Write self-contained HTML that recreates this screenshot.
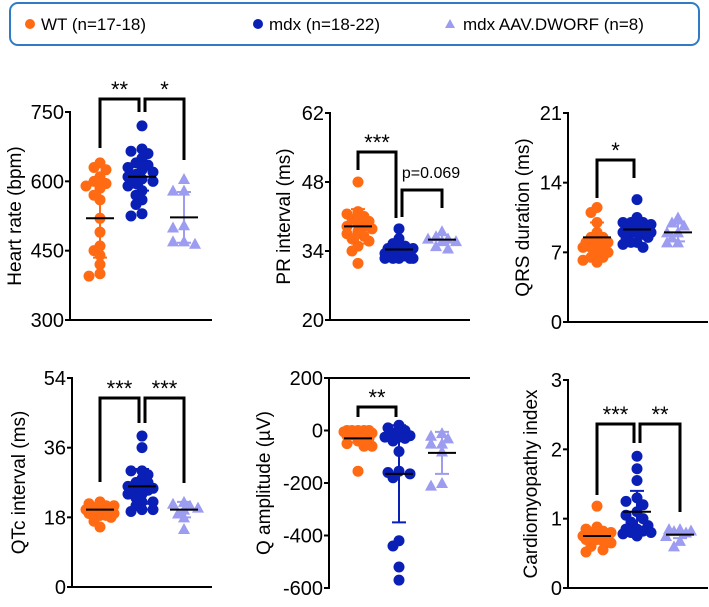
<!DOCTYPE html>
<html><head><meta charset="utf-8"><style>
body{margin:0;background:#fff;width:709px;height:602px;overflow:hidden;font-family:"Liberation Sans",Arial,sans-serif}
svg text{font-family:"Liberation Sans",Arial,sans-serif}
</style></head><body>
<svg id="fig" width="709" height="602">
<g>
<rect x="10" y="3" width="689" height="42" rx="8" fill="#fff" stroke="#2f7cc4" stroke-width="2"/>
<circle cx="30" cy="24" r="5" fill="#ff6a13"/>
<text x="41" y="30" font-size="17">WT (n=17-18)</text>
<circle cx="258" cy="24" r="5" fill="#0a1fb5"/>
<text x="269" y="30" font-size="17">mdx (n=18-22)</text>
<polygon points="450,19 455,28 445,28" fill="#9c9cf0"/>
<text x="463" y="30" font-size="17">mdx AAV.DWORF (n=8)</text>
</g>
</svg>
<script>
// ---- data ----
const groups = ["WT","mdx","mdx AAV.DWORF"];
const hrWT=[640,630,625,610,600,595,590,585,570,560,520,490,460,450,440,420,400,395];
const hrMdx=[720,670,665,660,650,640,635,630,625,620,615,610,605,600,595,590,580,570,560,550,530,525];
const hrAAV=[605,580,580,505,500,470,470,465];
const hrMean=[520,610,522]; const hrSD=[85,30,55];
const prWT=[48,42,41.5,41,40.5,40,39.5,39,39,38.5,38,37.5,37,36.5,36,35,34,31.5];
const prMdx=[38.5,36.5,35.5,35,34.5,34.5,34,34,34,33.5,33.5,33,33,33,33,32.5,32.5,32.5,32.5,32.5];
const prAAV=[38,37,36.5,36.5,36,36,35,34.5];
const prMean=[39,34.3,36.3]; const prSD=[3.5,1.2,1];
const qrsWT=[11.5,11,10,9,8.5,8.5,8,8,8,7.5,7.5,7.5,7,7,6.5,6.5,6,6.2];
const qrsMdx=[12.3,10.5,10,10,10,9.8,9.5,9.5,9.5,9.3,9,9,9,9,8.8,8.5,8.5,8,8,7.8,7.5];
const qrsAAV=[10.5,10,9.7,9,9,8.5,8,8];
const qrsMean=[8.5,9.3,9]; const qrsSD=[1.5,0.9,0.9];
const qtWT=[22,21.5,21,21,20.5,20.5,20,20,20,19.5,19,19,19,18.5,18.5,18,17,15.5];
const qtMdx=[39,36,30,30,29,28,27,27,26,26,25.5,25,25,24,24,23,22,22,21,20,20,19.5];
const qtAAV=[22,21.5,21,20.5,20,19,18,15];
const qtMean=[20,26,20]; const qtSD=[1.5,4.5,2];
const qaWT=[0,0,0,0,0,-5,-10,-10,-15,-20,-20,-30,-40,-50,-60,-60,-155];
const qaMdx=[20,10,0,-10,-20,-25,-25,-30,-40,-80,-155,-160,-165,-180,-420,-440,-520,-570];
const qaAAV=[-10,-20,-30,-50,-50,-80,-200,-210];
const qaMean=[-30,-165,-85]; const qaSD=[15,185,80];
const ciWT=[1.18,0.88,0.85,0.82,0.8,0.8,0.78,0.75,0.75,0.73,0.72,0.7,0.7,0.68,0.65,0.6,0.55,0.52];
const ciMdx=[1.9,1.72,1.55,1.3,1.25,1.2,1.1,1.05,1.0,0.95,0.9,0.85,0.85,0.82,0.8,0.8,0.78,0.75];
const ciAAV=[0.85,0.85,0.83,0.82,0.8,0.75,0.68,0.6];
const ciMean=[0.75,1.1,0.77]; const ciSD=[0.1,0.3,0.05];
const hrTicks=[300,450,600,750], prTicks=[20,34,48,62], qrsTicks=[0,7,14,21],
      qtTicks=[0,18,36,54], qaTicks=[-600,-400,-200,0,200], ciTicks=[0,1,2,3];

// ---- layout ----
const colors=["#ff6a13","#0a1fb5","#9c9cf0"];
const panels=[
 {name:"heart-rate",title:"Heart rate (bpm)",ax:70,top:112,bot:320,xr:212,gx:[100,142,184],tx:14,data:[hrWT,hrMdx,hrAAV],mean:hrMean,sd:hrSD,ticks:hrTicks,xTop:false,
  br:[{a:0,b:1,y:99,la:148,lb:112,s:"**"},{a:1,b:2,y:99,la:112,lb:160,s:"*"}]},
 {name:"pr-interval",title:"PR interval (ms)",ax:330,top:113,bot:320,xr:470,gx:[358,399,442],tx:283,data:[prWT,prMdx,prAAV],mean:prMean,sd:prSD,ticks:prTicks,xTop:false,
  br:[{a:0,b:1,y:152,la:170,lb:218,s:"***"},{a:1,b:2,y:190,la:217,lb:208,s:"p=0.069",small:true,lx:431}]},
 {name:"qrs-duration",title:"QRS duration (ms)",ax:568,top:113,bot:322,xr:708,gx:[597,637,678],tx:522,data:[qrsWT,qrsMdx,qrsAAV],mean:qrsMean,sd:qrsSD,ticks:qrsTicks,xTop:false,
  br:[{a:0,b:1,y:160,la:198,lb:178,s:"*"}]},
 {name:"qtc-interval",title:"QTc interval (ms)",ax:72,top:378,bot:587,xr:212,gx:[100,142,184],tx:18,data:[qtWT,qtMdx,qtAAV],mean:qtMean,sd:qtSD,ticks:qtTicks,xTop:false,
  br:[{a:0,b:1,y:398,la:482,lb:423,s:"***"},{a:1,b:2,y:398,la:423,lb:483,s:"***"}]},
 {name:"q-amplitude",title:"Q amplitude (µV)",ax:329,top:378,bot:588,xr:470,gx:[358,399,442],tx:263,data:[qaWT,qaMdx,qaAAV],mean:qaMean,sd:qaSD,ticks:qaTicks,xTop:true,
  br:[{a:0,b:1,y:407,la:417,lb:417,s:"**"}]},
 {name:"cardiomyopathy-index",title:"Cardiomyopathy index",ax:568,top:380,bot:588,xr:708,gx:[597,637,680],tx:530,data:[ciWT,ciMdx,ciAAV],mean:ciMean,sd:ciSD,ticks:ciTicks,xTop:false,
  br:[{a:0,b:1,y:424,la:495,lb:443,s:"***"},{a:1,b:2,y:424,la:443,lb:512,s:"**"}]}
];
const svg=document.getElementById('fig');const NS="http://www.w3.org/2000/svg";
function mk(tag,at,parent){const e=document.createElementNS(NS,tag);for(const k in at)e.setAttribute(k,at[k]);parent.appendChild(e);return e;}
const offs=[0,-6,6,-11,11,-14,14];
panels.forEach(p=>{
 const g=mk('g',{},svg);
 
 
 const t0=p.ticks[0],t1=p.ticks[p.ticks.length-1];
 const y=v=>p.bot-(v-t0)/(t1-t0)*(p.bot-p.top);
 const yl=mk('line',{x1:p.ax,y1:p.top-1,x2:p.ax,y2:p.bot+1,stroke:'#000','stroke-width':2},g);
 
 
 const xLineY=p.xTop?p.top:p.bot;
 const xl=mk('line',{x1:p.ax,y1:xLineY,x2:p.xr,y2:xLineY,stroke:'#000','stroke-width':2},g);
 
 
 p.ticks.forEach(t=>{
  mk('line',{x1:p.ax-5,y1:y(t),x2:p.ax,y2:y(t),stroke:'#000','stroke-width':2},g);
  const tl=mk('text',{x:p.ax-6,y:y(t)+7,'text-anchor':'end','font-size':20},g);tl.textContent=t;
  
  
 });
 const cy=(p.top+p.bot)/2;
 const tt=mk('text',{x:p.tx,y:cy,'text-anchor':'middle','font-size':19,transform:`rotate(-90 ${p.tx} ${cy})`,dy:7},g);tt.textContent=p.title;
 
 
 p.data.forEach((arr,gi)=>{
  const placed=[];const cx=p.gx[gi];
  arr.forEach(v=>{
   const py=y(v);let best=0,bestD=-1;
   for(const o of offs){
     const d=placed.length?Math.min(...placed.map(q=>Math.hypot(q[0]-(cx+o),q[1]-py))):99;
     if(d>=7){best=o;bestD=d;break;}
     if(d>bestD){bestD=d;best=o;}
   }
   const ox=best;
   placed.push([cx+ox,py]);
   let m;
   if(gi<2) m=mk('circle',{cx:cx+ox,cy:py,r:5.5,fill:colors[gi]},g);
   else m=mk('polygon',{points:`${cx+ox},${py-6} ${cx+ox+6},${py+5} ${cx+ox-6},${py+5}`,fill:colors[gi]},g);
   
   
  });
  const mu=p.mean[gi],s=p.sd[gi];
  const eb=mk('path',{d:`M${cx},${y(mu+s)}V${y(mu-s)}M${cx-7},${y(mu+s)}H${cx+7}M${cx-7},${y(mu-s)}H${cx+7}`,stroke:colors[gi],'stroke-width':2,fill:'none'},g);
  
  
  const ml=mk('line',{x1:cx-14,y1:y(mu),x2:cx+14,y2:y(mu),stroke:'#000','stroke-width':2},g);
  
  
 });
 p.br.forEach(b=>{
  const xa=p.gx[b.a]+(b.a===1?3:0),xb=p.gx[b.b]-(b.b===1?3:0);
  const bp=mk('path',{d:`M${xa},${b.la}V${b.y}H${xb}V${b.lb}`,stroke:'#000','stroke-width':3,fill:'none'},g);
  
  
  const st=mk('text',{x:b.lx||(xa+xb)/2,y:b.small?b.y-12:b.y-2,'text-anchor':'middle','font-size':b.small?16:22},g);st.textContent=b.s;
  
  
 });
});
</script>
</body></html>
